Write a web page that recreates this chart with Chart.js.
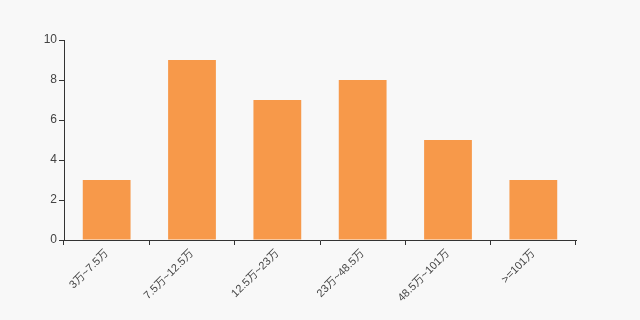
<!DOCTYPE html>
<html>
<head>
<meta charset="utf-8">
<script src="https://cdn.jsdelivr.net/npm/chart.js@4/dist/chart.umd.min.js"></script>
<style>
    html, body { margin: 0; padding: 0; background: #f8f8f8; }
    #wrap { width: 640px; height: 320px; }
</style>
</head>
<body>
<div id="wrap"><canvas id="chart" width="640" height="320"></canvas></div>
<script>
const categories = ['3万~7.5万', '7.5万~12.5万', '12.5万~23万', '23万~48.5万', '48.5万~101万', '>=101万'];
const counts = [3, 9, 7, 8, 5, 3];
const yTicks = [0, 2, 4, 6, 8, 10];

const axisColor = '#333';
const labelFont = { family: 'Arial, "Liberation Sans", "Noto Sans CJK SC", sans-serif', size: 12 };

const ctx = document.getElementById('chart').getContext('2d');

new Chart(ctx, {
    type: 'bar',
    data: {
        labels: categories,
        datasets: [{
            data: counts,
            backgroundColor: '#f7994a',
            borderWidth: 0,
            categoryPercentage: 0.56,
            barPercentage: 1,
        }],
    },
    options: {
        responsive: false,
        animation: false,
        layout: { padding: { top: 40, right: 64, left: 0, bottom: 0 } },
        plugins: {
            legend: { display: false },
            tooltip: { enabled: false },
        },
        scales: {
            x: {
                grid: { offset: true, drawOnChartArea: false, drawTicks: true, tickLength: 5, color: axisColor },
                border: { display: true, color: axisColor },
                ticks: {
                    color: '#444',
                    font: { ...labelFont, size: 11 },
                    minRotation: 45,
                    maxRotation: 45,
                    autoSkip: false,
                    padding: 2,
                },
                afterFit: scale => { scale.height = 80; },
            },
            y: {
                min: 0,
                max: 10,
                afterBuildTicks: scale => { scale.ticks = yTicks.map(v => ({ value: v })); },
                grid: { drawOnChartArea: false, drawTicks: true, tickLength: 5, color: axisColor },
                border: { display: true, color: axisColor },
                ticks: { color: '#444', font: labelFont, padding: 2 },
                afterFit: scale => { scale.width = 64; },
            },
        },
    },
});
</script>
</body>
</html>
